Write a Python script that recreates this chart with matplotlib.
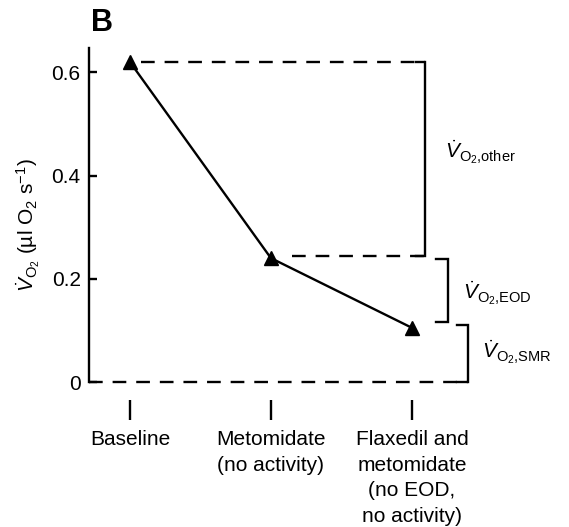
import matplotlib.pyplot as plt

plt.rcParams['font.family'] = 'Liberation Sans'
plt.rcParams['mathtext.fontset'] = 'custom'
plt.rcParams['mathtext.rm'] = 'Liberation Sans'
plt.rcParams['mathtext.it'] = 'Liberation Sans:italic'
plt.rcParams['mathtext.bf'] = 'Liberation Sans:bold'

# data
categories = ['Baseline', 'Metomidate\n(no activity)',
              'Flaxedil and\nmetomidate\n(no EOD,\nno activity)']
vo2 = [0.62, 0.24, 0.105]

# partition of VO2 into components (bracket bounds)
component_names = ['other', 'EOD', 'SMR']
component_low = [0.2435, 0.116, 0.0]
component_high = [0.62, 0.238, 0.110]
yticks = [0, 0.2, 0.4, 0.6]
yticklabels = ['0', '0.2', '0.4', '0.6']

fig = plt.figure(figsize=(5.69, 5.27), dpi=100)
ax = fig.add_axes([89 / 569, 1 - 382 / 527, 391 / 569, 334 / 527])
x = list(range(len(categories)))

ax.set_xlim(-0.29, -0.29 + 391 / 141)
ax.set_ylim(0, 0.647)

lw = 1.7
dash = (5.8, 4.2)

# bracket x positions (data units) and small end ticks
br_x = [2.092, 2.255, 2.397]
br_tick = [0.06, 0.085, 0.078]

# dashed reference lines
ax.plot([x[0] + 0.08, br_x[0]], [vo2[0], vo2[0]], color='black', lw=lw,
        dashes=dash, clip_on=False)
ax.plot([x[1] + 0.15, br_x[0]], [component_low[0]] * 2, color='black', lw=lw,
        dashes=dash, clip_on=False)
ax.plot([-0.29, br_x[2]], [0, 0], color='black', lw=lw, dashes=dash,
        clip_on=False)

# brackets
for bx, bt, lo, hi in zip(br_x, br_tick, component_low, component_high):
    ax.plot([bx - bt, bx, bx, bx - bt], [hi, hi, lo, lo], color='black',
            lw=lw, solid_joinstyle='miter', clip_on=False)

# bracket labels
label_y = [0.445, 0.172, 0.058]
label_x = [2.234, 2.36, 2.5]
for name, lx, ly in zip(component_names, label_x, label_y):
    ax.text(lx, ly, r'$\dot{V}_{\mathrm{O_2{,}%s}}$' % name, fontsize=15,
            va='center', ha='left', clip_on=False)

# data line
ax.plot(x, vo2, color='black', lw=lw, marker='^', markersize=10,
        clip_on=False, zorder=5)

# axes styling
for s in ['top', 'right']:
    ax.spines[s].set_visible(False)
ax.spines['left'].set_linewidth(lw)
ax.spines['bottom'].set_visible(False)
ax.spines['bottom'].set_position(('outward', 13))

ax.set_yticks(yticks)
ax.set_yticklabels(yticklabels)
ax.tick_params(axis='y', direction='in', length=6, width=lw, labelsize=15,
               pad=6)
ax.set_xticks(x)
ax.set_xticklabels(categories, linespacing=1.45)
ax.tick_params(axis='x', direction='out', length=14.4, width=lw,
               labelsize=15, pad=7)

ax.set_ylabel(r'$\dot{V}_{\mathrm{O_2}}$ (µl O$_2$ s$^{-1}$)', fontsize=15)
ax.yaxis.set_label_coords(-0.12, 0.47)

fig.text(91 / 569, 1 - 8 / 527, 'B', fontsize=22, fontweight='bold',
         va='top', ha='left')

fig.savefig('out.png', dpi=100)
